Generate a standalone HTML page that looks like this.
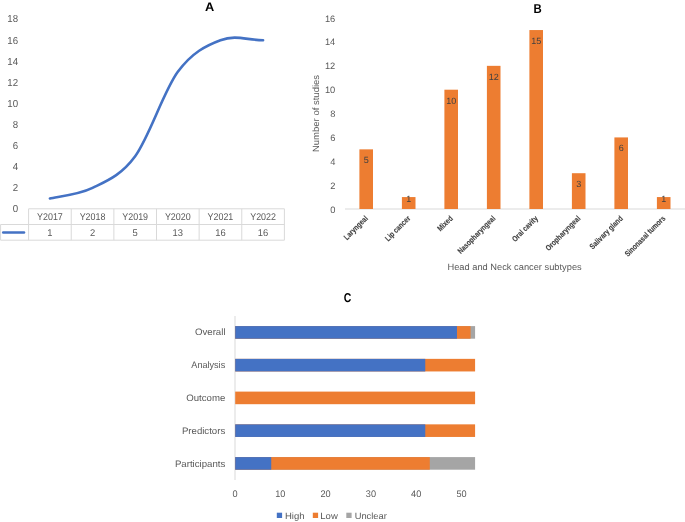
<!DOCTYPE html>
<html><head><meta charset="utf-8"><style>
html,body{margin:0;padding:0;background:#fff;}
svg{display:block;font-family:"Liberation Sans", sans-serif;text-rendering:geometricPrecision;will-change:transform;filter:blur(0.35px);}
</style></head><body>
<svg width="685" height="522" viewBox="0 0 685 522">
<rect width="685" height="522" fill="#fff"/>
<text transform="translate(209.55,10.70) scale(1.05,1)" font-size="12.2" text-anchor="middle" font-weight="700" fill="#000">A</text>
<text transform="translate(18.10,212.30) scale(0.96,1)" font-size="10.1" text-anchor="end" fill="#595959">0</text>
<text transform="translate(18.10,191.20) scale(0.96,1)" font-size="10.1" text-anchor="end" fill="#595959">2</text>
<text transform="translate(18.10,170.10) scale(0.96,1)" font-size="10.1" text-anchor="end" fill="#595959">4</text>
<text transform="translate(18.10,149.00) scale(0.96,1)" font-size="10.1" text-anchor="end" fill="#595959">6</text>
<text transform="translate(18.10,127.90) scale(0.96,1)" font-size="10.1" text-anchor="end" fill="#595959">8</text>
<text transform="translate(18.10,106.80) scale(0.96,1)" font-size="10.1" text-anchor="end" fill="#595959">10</text>
<text transform="translate(18.10,85.70) scale(0.96,1)" font-size="10.1" text-anchor="end" fill="#595959">12</text>
<text transform="translate(18.10,64.60) scale(0.96,1)" font-size="10.1" text-anchor="end" fill="#595959">14</text>
<text transform="translate(18.10,43.50) scale(0.96,1)" font-size="10.1" text-anchor="end" fill="#595959">16</text>
<text transform="translate(18.10,22.40) scale(0.96,1)" font-size="10.1" text-anchor="end" fill="#595959">18</text>
<path d="M28.60,208.8 H284.40 M0.6,224.5 H284.40 M0.6,240.2 H284.40 M0.6,224.5 V240.2 M28.60,208.8 V240.2 M71.23,208.8 V240.2 M113.87,208.8 V240.2 M156.50,208.8 V240.2 M199.13,208.8 V240.2 M241.77,208.8 V240.2 M284.40,208.8 V240.2" stroke="#D9D9D9" stroke-width="1" fill="none"/>
<text transform="translate(49.92,219.90) scale(0.91,1)" font-size="9.8" text-anchor="middle" fill="#595959">Y2017</text>
<text transform="translate(49.92,235.80) scale(0.96,1)" font-size="9.8" text-anchor="middle" fill="#595959">1</text>
<text transform="translate(92.55,219.90) scale(0.91,1)" font-size="9.8" text-anchor="middle" fill="#595959">Y2018</text>
<text transform="translate(92.55,235.80) scale(0.96,1)" font-size="9.8" text-anchor="middle" fill="#595959">2</text>
<text transform="translate(135.18,219.90) scale(0.91,1)" font-size="9.8" text-anchor="middle" fill="#595959">Y2019</text>
<text transform="translate(135.18,235.80) scale(0.96,1)" font-size="9.8" text-anchor="middle" fill="#595959">5</text>
<text transform="translate(177.82,219.90) scale(0.91,1)" font-size="9.8" text-anchor="middle" fill="#595959">Y2020</text>
<text transform="translate(177.82,235.80) scale(0.96,1)" font-size="9.8" text-anchor="middle" fill="#595959">13</text>
<text transform="translate(220.45,219.90) scale(0.91,1)" font-size="9.8" text-anchor="middle" fill="#595959">Y2021</text>
<text transform="translate(220.45,235.80) scale(0.96,1)" font-size="9.8" text-anchor="middle" fill="#595959">16</text>
<text transform="translate(263.08,219.90) scale(0.91,1)" font-size="9.8" text-anchor="middle" fill="#595959">Y2022</text>
<text transform="translate(263.08,235.80) scale(0.96,1)" font-size="9.8" text-anchor="middle" fill="#595959">16</text>
<path d="M3.2,232.6 H24" stroke="#4472C4" stroke-width="2.5" stroke-linecap="round"/>
<path d="M49.92,198.45 C57.02,196.69 78.34,194.93 92.55,187.90 C106.76,180.87 120.97,175.59 135.18,156.25 C149.39,136.91 163.61,91.19 177.82,71.85 C192.03,52.51 206.24,45.47 220.45,40.20 C235.80,34.50 247.28,40.20 263.08,40.20" stroke="#4472C4" stroke-width="2.6" fill="none" stroke-linecap="round" stroke-linejoin="round"/>
<text transform="translate(537.50,12.50) scale(0.89,1)" font-size="12.8" text-anchor="middle" font-weight="700" fill="#000">B</text>
<text x="335.30" y="212.50" font-size="9.3" text-anchor="end" fill="#595959">0</text>
<text x="335.30" y="188.64" font-size="9.3" text-anchor="end" fill="#595959">2</text>
<text x="335.30" y="164.78" font-size="9.3" text-anchor="end" fill="#595959">4</text>
<text x="335.30" y="140.92" font-size="9.3" text-anchor="end" fill="#595959">6</text>
<text x="335.30" y="117.06" font-size="9.3" text-anchor="end" fill="#595959">8</text>
<text x="335.30" y="93.20" font-size="9.3" text-anchor="end" fill="#595959">10</text>
<text x="335.30" y="69.34" font-size="9.3" text-anchor="end" fill="#595959">12</text>
<text x="335.30" y="45.48" font-size="9.3" text-anchor="end" fill="#595959">14</text>
<text x="335.30" y="21.62" font-size="9.3" text-anchor="end" fill="#595959">16</text>
<path d="M345,209 H685" stroke="#D9D9D9" stroke-width="1"/>
<rect x="359.40" y="149.35" width="13.6" height="59.65" fill="#ED7D31"/>
<text x="366.20" y="163.20" font-size="9.0" text-anchor="middle" fill="#404040">5</text>
<text transform="translate(368.40,219) rotate(-45) scale(0.80,1)" text-anchor="end" font-size="8.0" font-weight="700" fill="#404040" stroke="#404040" stroke-width="0.12">Laryngeal</text>
<rect x="401.90" y="197.07" width="13.6" height="11.93" fill="#ED7D31"/>
<text x="408.70" y="201.90" font-size="9.0" text-anchor="middle" fill="#404040">1</text>
<text transform="translate(410.90,219) rotate(-45) scale(0.80,1)" text-anchor="end" font-size="8.0" font-weight="700" fill="#404040" stroke="#404040" stroke-width="0.12">Lip cancer</text>
<rect x="444.40" y="89.70" width="13.6" height="119.30" fill="#ED7D31"/>
<text x="451.20" y="103.55" font-size="9.0" text-anchor="middle" fill="#404040">10</text>
<text transform="translate(453.40,219) rotate(-45) scale(0.80,1)" text-anchor="end" font-size="8.0" font-weight="700" fill="#404040" stroke="#404040" stroke-width="0.12">Mixed</text>
<rect x="486.90" y="65.84" width="13.6" height="143.16" fill="#ED7D31"/>
<text x="493.70" y="79.69" font-size="9.0" text-anchor="middle" fill="#404040">12</text>
<text transform="translate(495.90,219) rotate(-45) scale(0.80,1)" text-anchor="end" font-size="8.0" font-weight="700" fill="#404040" stroke="#404040" stroke-width="0.12">Nasopharyngeal</text>
<rect x="529.40" y="30.05" width="13.6" height="178.95" fill="#ED7D31"/>
<text x="536.20" y="43.90" font-size="9.0" text-anchor="middle" fill="#404040">15</text>
<text transform="translate(538.40,219) rotate(-45) scale(0.80,1)" text-anchor="end" font-size="8.0" font-weight="700" fill="#404040" stroke="#404040" stroke-width="0.12">Oral cavity</text>
<rect x="571.90" y="173.21" width="13.6" height="35.79" fill="#ED7D31"/>
<text x="578.70" y="187.06" font-size="9.0" text-anchor="middle" fill="#404040">3</text>
<text transform="translate(580.90,219) rotate(-45) scale(0.80,1)" text-anchor="end" font-size="8.0" font-weight="700" fill="#404040" stroke="#404040" stroke-width="0.12">Oropharyngeal</text>
<rect x="614.40" y="137.42" width="13.6" height="71.58" fill="#ED7D31"/>
<text x="621.20" y="151.27" font-size="9.0" text-anchor="middle" fill="#404040">6</text>
<text transform="translate(623.40,219) rotate(-45) scale(0.80,1)" text-anchor="end" font-size="8.0" font-weight="700" fill="#404040" stroke="#404040" stroke-width="0.12">Salivary gland</text>
<rect x="656.90" y="197.07" width="13.6" height="11.93" fill="#ED7D31"/>
<text x="663.70" y="201.90" font-size="9.0" text-anchor="middle" fill="#404040">1</text>
<text transform="translate(665.90,219) rotate(-45) scale(0.80,1)" text-anchor="end" font-size="8.0" font-weight="700" fill="#404040" stroke="#404040" stroke-width="0.12">Sinonasal tumors</text>
<text transform="translate(319.3,113.5) rotate(-90) scale(1.045,1)" text-anchor="middle" font-size="9.1" fill="#595959">Number of studies</text>
<text transform="translate(447.44,269.95) scale(1.0218,1)" font-size="9.1" fill="#595959">Head and Neck cancer subtypes</text>
<text transform="translate(347.60,302.20) scale(0.82,1)" font-size="12.8" text-anchor="middle" font-weight="700" fill="#000">C</text>
<path d="M235,316 V480" stroke="#D9D9D9" stroke-width="1"/>
<text transform="translate(194.97,335.10) scale(1.029,1)" font-size="9.4" fill="#595959">Overall</text>
<rect x="235.20" y="326.10" width="239.89" height="12.6" fill="#A5A5A5"/>
<rect x="235.20" y="326.10" width="235.36" height="12.6" fill="#ED7D31"/>
<rect x="235.20" y="326.10" width="221.77" height="12.6" fill="#4472C4"/>
<text transform="translate(191.35,367.80) scale(0.9693,1)" font-size="9.4" fill="#595959">Analysis</text>
<rect x="235.20" y="358.85" width="239.89" height="12.6" fill="#ED7D31"/>
<rect x="235.20" y="358.85" width="190.06" height="12.6" fill="#4472C4"/>
<text transform="translate(186.27,401.00) scale(1.0256,1)" font-size="9.4" fill="#595959">Outcome</text>
<rect x="235.20" y="391.60" width="239.89" height="12.6" fill="#ED7D31"/>
<text transform="translate(181.91,434.00) scale(1.0261,1)" font-size="9.4" fill="#595959">Predictors</text>
<rect x="235.20" y="424.35" width="239.89" height="12.6" fill="#ED7D31"/>
<rect x="235.20" y="424.35" width="190.06" height="12.6" fill="#4472C4"/>
<text transform="translate(174.90,466.80) scale(1.0284,1)" font-size="9.4" fill="#595959">Participants</text>
<rect x="235.20" y="457.10" width="239.89" height="12.6" fill="#A5A5A5"/>
<rect x="235.20" y="457.10" width="194.59" height="12.6" fill="#ED7D31"/>
<rect x="235.20" y="457.10" width="36.04" height="12.6" fill="#4472C4"/>
<text transform="translate(235.00,496.90) scale(0.96,1)" font-size="9.55" text-anchor="middle" fill="#595959">0</text>
<text transform="translate(280.30,496.90) scale(0.96,1)" font-size="9.55" text-anchor="middle" fill="#595959">10</text>
<text transform="translate(325.60,496.90) scale(0.96,1)" font-size="9.55" text-anchor="middle" fill="#595959">20</text>
<text transform="translate(370.90,496.90) scale(0.96,1)" font-size="9.55" text-anchor="middle" fill="#595959">30</text>
<text transform="translate(416.20,496.90) scale(0.96,1)" font-size="9.55" text-anchor="middle" fill="#595959">40</text>
<text transform="translate(461.50,496.90) scale(0.96,1)" font-size="9.55" text-anchor="middle" fill="#595959">50</text>
<rect x="276.8" y="512.7" width="5.3" height="5.3" fill="#4472C4"/>
<text transform="translate(284.92,518.60) scale(1.0585,1)" font-size="9.0" fill="#595959">High</text>
<rect x="312.8" y="512.7" width="5.3" height="5.3" fill="#ED7D31"/>
<text transform="translate(320.31,518.60) scale(1.0603,1)" font-size="9.0" fill="#595959">Low</text>
<rect x="346.3" y="512.7" width="5.3" height="5.3" fill="#A5A5A5"/>
<text transform="translate(354.65,518.60) scale(1.0348,1)" font-size="9.0" fill="#595959">Unclear</text>
</svg>
</body></html>
